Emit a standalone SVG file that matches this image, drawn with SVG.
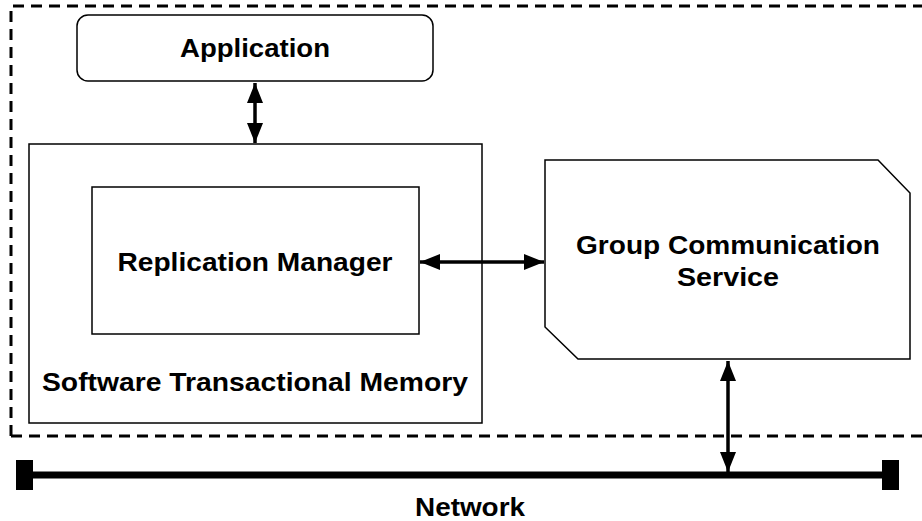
<svg xmlns="http://www.w3.org/2000/svg" width="922" height="521" viewBox="0 0 922 521">
<style>
.box{fill:#fff;stroke:#000;stroke-width:1.5}
.lbl{font-family:"Liberation Sans",Arial,sans-serif;font-weight:bold;fill:#000;text-anchor:middle}
.conn{stroke:#000;stroke-width:3.5;fill:none}
</style>
<defs>
<marker id="ah" viewBox="0 0 20 16" refX="20" refY="8" markerWidth="20" markerHeight="16" markerUnits="userSpaceOnUse" orient="auto-start-reverse">
<path d="M0,0 L20,8 L0,16 Z" fill="#000"/>
</marker>
</defs>
<rect width="922" height="521" fill="#fff"/>
<path d="M11,436 L11,6 L930,6 M11,436 L930,436" fill="none" stroke="#000" stroke-width="3" stroke-dasharray="11,7"/>
<g id="application">
<rect class="box" x="77" y="15" width="356" height="66" rx="11"/>
<text class="lbl" x="255" y="57" font-size="26" textLength="150" lengthAdjust="spacingAndGlyphs">Application</text>
</g>
<g id="stm">
<rect class="box" x="29" y="144" width="453" height="279"/>
<text class="lbl" x="255" y="391" font-size="26" textLength="426" lengthAdjust="spacingAndGlyphs">Software Transactional Memory</text>
</g>
<g id="replication-manager">
<rect class="box" x="92" y="187" width="327" height="147"/>
<text class="lbl" x="255" y="271" font-size="26" textLength="275" lengthAdjust="spacingAndGlyphs">Replication Manager</text>
</g>
<g id="gcs">
<path class="box" d="M545,160 L878,160 L910,193 L910,359 L578,359 L545,327 Z"/>
<text class="lbl" x="728" y="254" font-size="26" textLength="304" lengthAdjust="spacingAndGlyphs">Group Communication</text>
<text class="lbl" x="728" y="286" font-size="26" textLength="102" lengthAdjust="spacingAndGlyphs">Service</text>
</g>
<g id="network">
<line x1="25" y1="475" x2="890" y2="475" stroke="#000" stroke-width="7"/>
<rect x="16" y="460" width="17" height="30" fill="#000"/>
<rect x="882" y="460" width="17" height="30" fill="#000"/>
<text class="lbl" x="470" y="516" font-size="25" textLength="110" lengthAdjust="spacingAndGlyphs">Network</text>
</g>
<g id="connectors">
<line class="conn" x1="255" y1="83" x2="255" y2="143" marker-start="url(#ah)" marker-end="url(#ah)"/>
<line class="conn" x1="420" y1="262" x2="544" y2="262" marker-start="url(#ah)" marker-end="url(#ah)"/>
<line class="conn" x1="728" y1="361" x2="728" y2="472" marker-start="url(#ah)" marker-end="url(#ah)" stroke-width="3"/>
</g>
</svg>
